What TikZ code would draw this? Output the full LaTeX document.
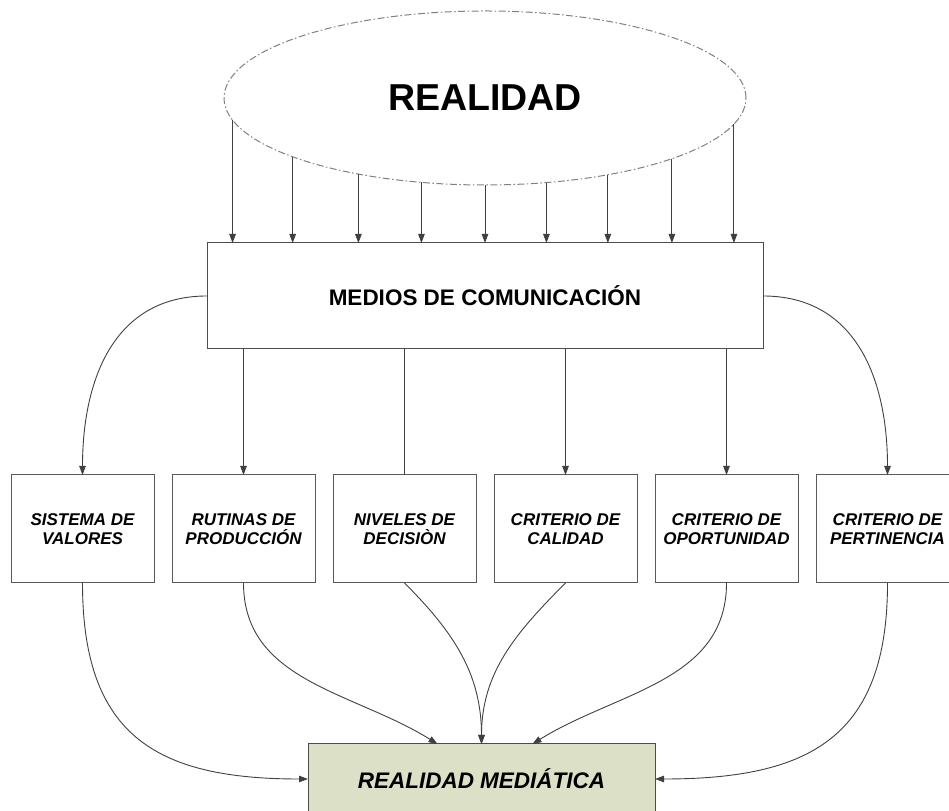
\documentclass[tikz,border=0pt]{standalone}
\usepackage{fontspec}
\setmainfont{Liberation Sans}
\usetikzlibrary{shapes.geometric,arrows.meta}
\definecolor{mediafill}{HTML}{DCE0C6}
\begin{document}
\begin{tikzpicture}[x=1pt,y=1pt,
  line/.style={draw=black!75, line width=0.9pt},
  arr/.style={line, -{Triangle[length=9pt,width=6.5pt]}},
  box/.style={draw=black!65, line width=1pt, fill=white, minimum width=143pt,
    minimum height=108pt, inner sep=0pt, outer sep=0pt, align=center,
    font=\bfseries\itshape\fontsize{17}{19.2}\selectfont},
  cloud/.style={ellipse, draw=black!50, line width=1pt,
    dash pattern=on 7pt off 2.5pt on 1.5pt off 2.5pt,
    minimum width=522pt, minimum height=174pt, inner sep=0pt, outer sep=0pt,
    font=\bfseries\fontsize{37.5}{40}\selectfont},
  media/.style={draw=black!70, line width=1pt, minimum width=556pt, minimum height=106pt,
    inner sep=0pt, outer sep=0pt, font=\bfseries\fontsize{22.5}{26}\selectfont},
  result/.style={draw=black!70, line width=1pt, fill=mediafill, minimum width=347pt,
    minimum height=70pt, inner sep=0pt, outer sep=0pt,
    font=\bfseries\itshape\fontsize{22.5}{26}\selectfont},
]
\useasboundingbox (0,0) rectangle (949,810);
\clip (0,0) rectangle (949,810);

\node[cloud] (R) at (485,712) {REALIDAD};
\node[media] (M) at (485,514) {MEDIOS DE COMUNICACIÓN};

\node[box] (S1) at (82.5,281) {SISTEMA DE\\VALORES};
\node[box] (S2) at (243.5,281) {RUTINAS DE\\PRODUCCIÓN};
\node[box] (S3) at (404.5,281) {NIVELES DE\\DECISIÒN};
\node[box] (S4) at (565.5,281) {CRITERIO DE\\CALIDAD};
\node[box] (S5) at (726.5,281) {CRITERIO DE\\OPORTUNIDAD};
\node[box] (S6) at (887.5,281) {CRITERIO DE\\PERTINENCIA};

\node[result] (B) at (481.5,31) {REALIDAD MEDIÁTICA};

% arrows from the ellipse
\foreach \k in {-4,...,4}{
  \pgfmathsetmacro\dx{62.75*\k}
  \pgfmathsetmacro\dy{-87*sqrt(1-(\dx/261)^2)}
  \pgfmathsetmacro\ang{mod(atan2(\dy,\dx)+360,360)}
  \draw[arr] (R.\ang) -- (R.\ang |- M.north);
}

% from the media box to the six factors
\draw[arr] (M.west) to[out=180,in=90,looseness=1.1] (S1.north);
\draw[arr] (M.south -| S2.north) -- (S2.north);
\draw[line] (M.south -| S3.north) -- (S3.north);
\draw[arr] (M.south -| S4.north) -- (S4.north);
\draw[arr] (M.south -| S5.north) -- (S5.north);
\draw[arr] (M.east) to[out=0,in=90,looseness=1.1] (S6.north);

% from the factors to the mediated reality
\coordinate (BL) at ([xshift=-44pt]B.north);
\coordinate (BR) at ([xshift=51pt]B.north);
\draw[arr] (S1.south) to[out=-90,in=180,looseness=1.3] (B.west);
\draw[arr] (S2.south) to[out=-90,in=148] (BL);
\draw[arr] (S3.south) to[out=-45,in=90] (B.north);
\draw[arr] (S4.south) to[out=-135,in=90] (B.north);
\draw[arr] (S5.south) to[out=-90,in=32] (BR);
\draw[arr] (S6.south) to[out=-90,in=0,looseness=1.3] (B.east);
\end{tikzpicture}
\end{document}
